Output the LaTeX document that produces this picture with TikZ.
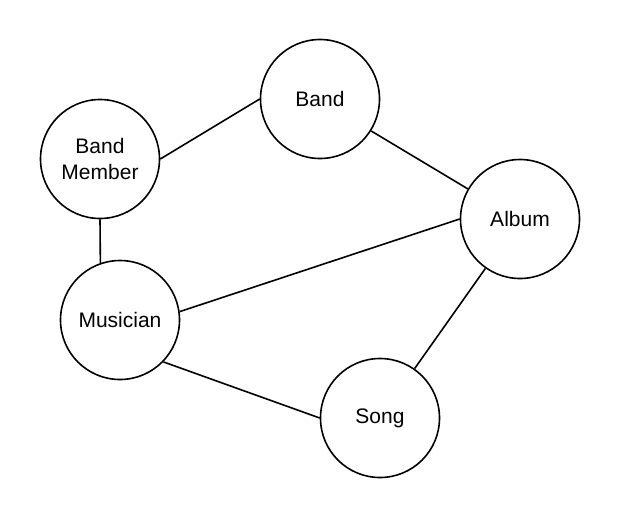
\documentclass[tikz,border=0pt]{standalone}
\usepackage{fontspec}
\setmainfont{Liberation Sans}
\usetikzlibrary{positioning}

\begin{document}
\begin{tikzpicture}[x=1pt,y=-1pt,line width=1.6pt,
    every entity/.style={draw,circle,minimum size=119pt,inner sep=0pt,
      align=center,font=\fontsize{21}{26}\selectfont}]
\useasboundingbox (0,0) rectangle (620,520);

\node [every entity] (band) at (320,99) {Band};
\node [every entity] (member) at (100,159) {Band\\Member};
\node [every entity] (album) at (520,219) {Album};
\node [every entity] (musician) at (120,320) {Musician};
\node [every entity] (song) at (380,418) {Song};

% relations
\draw (member.east) -- (band.west);
\draw (band.-32) -- (album.150);
\draw (member.south) -- (musician.109);
\draw (musician.8) -- (album.west);
\draw (musician.-44) -- (song.west);
\draw (song.55) -- (album.235);

\end{tikzpicture}
\end{document}
